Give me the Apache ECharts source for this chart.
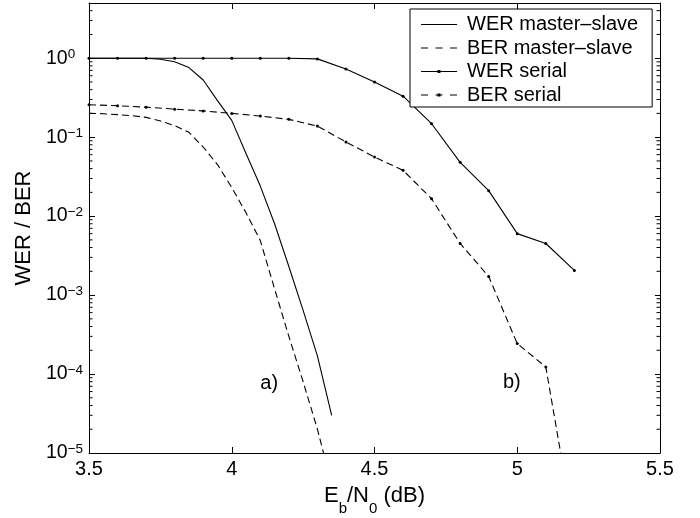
<!DOCTYPE html>
<html><head><meta charset="utf-8">
<script src="https://cdn.jsdelivr.net/npm/echarts@6/dist/echarts.min.js"></script>
<style>html,body{margin:0;padding:0;background:#fff}#c{width:700px;height:518px}</style>
</head><body><div id="c"></div>
<script>
// ---- data ----
const xSerial = [3.5,3.6,3.7,3.8,3.9,4.0,4.1,4.2,4.3,4.4,4.5,4.6,4.7,4.8,4.9,5.0,5.1,5.2];
const werSerial = [1,1,1,1,1,1,1,1,0.98,0.73,0.50,0.33,0.148,0.048,0.021,0.006,0.0045,0.00205];
const berSerialX = [3.5,3.6,3.7,3.8,3.9,4.0,4.1,4.2,4.3,4.4,4.5,4.6,4.7,4.8,4.9,5.0,5.1,5.2];
const berSerial = [0.257,0.25,0.24,0.226,0.215,0.20,0.185,0.168,0.138,0.087,0.056,0.038,0.0166,0.0045,0.00172,0.000243,0.000123,0.000001];
const xMS = [3.5,3.55,3.6,3.65,3.7,3.75,3.8,3.85,3.9,3.95,4.0,4.05,4.1,4.15,4.2,4.25,4.3,4.35];
const werMS = [1,1,1,1,1,0.97,0.9,0.76,0.53,0.29,0.163,0.062,0.024,0.008,0.0023,0.00064,0.00017,0.00003];
const berMS = [0.20,0.198,0.193,0.187,0.178,0.16,0.14,0.115,0.075,0.045,0.023,0.011,0.0049,0.0012,0.0003,0.00008,0.00002,0.000004];
const annotations = [['a)', 4.1, 7.5e-5], ['b)', 4.95, 7.9e-5]];
const xTicks = ['3.5','4','4.5','5','5.5'];
const seriesNames = ['WER master\u2013slave','BER master\u2013slave','WER serial','BER serial'];
const minorTicks = [];
for (let k = -5; k <= 0; k++) for (let m = 2; m <= 9; m++) { const v = m * Math.pow(10, k); if (v < 5) minorTicks.push(v); }

const FONT = 'Liberation Sans, Arial, Helvetica, sans-serif';
const pairs = (xs, ys) => xs.map((x, i) => [x, ys[i]]);

// legend icons (line samples), 36 x 3 box
const ICON_SOLID = 'path://M0,0.9h36v1.2h-36z';
const ICON_DASH = 'path://M0,0.9h7v1.2h-7zM14.5,0.9h7v1.2h-7zM29,0.9h7v1.2h-7z';
const ICON_SOLID_DOT = 'path://M0,0.9h36v1.2h-36zM16.5,0h3v3h-3z';
const ICON_DASH_DOT = 'path://M0,0.9h7v1.2h-7zM14.5,0.9h7v1.2h-7zM29,0.9h7v1.2h-7zM16.5,0h3v3h-3z';
const legendIcons = [ICON_SOLID, ICON_DASH, ICON_SOLID_DOT, ICON_DASH_DOT];

const chart = echarts.init(document.getElementById('c'), null, {renderer: 'canvas'});
const axisCommon = {
  axisLine: {show: true, onZero: false, lineStyle: {color: '#000', width: 1}},
  splitLine: {show: false},
};
const option = {
  animation: false,
  backgroundColor: '#fff',
  grid: {left: 89, right: 40, top: 3, bottom: 65, containLabel: false, outerBoundsMode: 'none'},
  xAxis: [
    Object.assign({type: 'value', min: 3.5, max: 5.5, interval: 0.5, position: 'bottom',
      axisTick: {inside: true, length: 6, lineStyle: {color: '#000'}},
      axisLabel: {fontFamily: FONT, fontSize: 20, color: '#000', margin: 6,
        formatter: v => xTicks[Math.round((v - 3.5) / 0.5)] || ''},
      name: 'E{sub|b}/N{sub|0} (dB)', nameLocation: 'middle', nameGap: 23, nameMoveOverlap: false,
      nameTextStyle: {fontFamily: FONT, fontSize: 22, color: '#000', lineHeight: 40,
        rich: {sub: {fontFamily: FONT, fontSize: 15, lineHeight: 14, verticalAlign: 'bottom', color: '#000'}}}
    }, axisCommon),
    Object.assign({type: 'value', min: 3.5, max: 5.5, interval: 0.5, position: 'top',
      axisTick: {inside: true, length: 6, lineStyle: {color: '#000'}},
      axisLabel: {show: false}}, axisCommon)
  ],
  yAxis: [
    Object.assign({type: 'log', logBase: 10, min: 1e-5, max: 5, position: 'left',
      axisTick: {inside: true, length: 6, lineStyle: {color: '#000'}},
      axisLabel: {align: 'left', margin: 43, color: '#000',
        formatter: v => {
          const e = Math.log10(v); const r = Math.round(e);
          if (Math.abs(e - r) > 1e-6) return '';
          return '{b|10}{s|' + (r < 0 ? '\u2212' + (-r) : String(r)) + '}';
        },
        rich: {
          b: {fontFamily: FONT, fontSize: 19.5, lineHeight: 22, color: '#000'},
          s: {fontFamily: FONT, fontSize: 13.5, lineHeight: 12, verticalAlign: 'top', color: '#000'}
        }},
      name: 'WER / BER', nameLocation: 'middle', nameGap: 54, nameRotate: 90, nameMoveOverlap: false,
      nameTextStyle: {fontFamily: FONT, fontSize: 22, color: '#000'}
    }, axisCommon),
    Object.assign({type: 'log', logBase: 10, min: 1e-5, max: 5, position: 'right',
      axisTick: {inside: true, length: 5, lineStyle: {color: '#000'}},
      axisLabel: {show: false}}, axisCommon)
  ],
  legend: {
    data: seriesNames.map((n, i) => ({name: n, icon: legendIcons[i], itemStyle: {color: '#000', borderWidth: 0}})),
    orient: 'vertical', left: 410, top: 9,
    backgroundColor: '#fff', borderColor: '#000', borderWidth: 1,
    padding: [5.5, 14, 2, 11], itemGap: 3.5, itemWidth: 36, itemHeight: 3,
    textStyle: {fontFamily: FONT, fontSize: 20, color: '#000', lineHeight: 20, padding: [0, 0, 0, 5]},
    inactiveColor: '#000'
  },
  series: [
    {name: seriesNames[0], type: 'line', data: pairs(xMS, werMS), symbol: 'none', clip: true,
      lineStyle: {color: '#000', width: 1.1}, itemStyle: {color: '#000'}},
    {name: seriesNames[1], type: 'line', data: pairs(xMS, berMS), symbol: 'none', clip: true,
      lineStyle: {color: '#000', width: 1.1, type: [7, 4]}, itemStyle: {color: '#000'}},
    {name: seriesNames[2], type: 'line', data: pairs(xSerial, werSerial), symbol: 'circle', symbolSize: 3, clip: true,
      lineStyle: {color: '#000', width: 1.1}, itemStyle: {color: '#000'}},
    {name: seriesNames[3], type: 'line', data: pairs(berSerialX, berSerial), symbol: 'circle', symbolSize: 3, clip: true,
      lineStyle: {color: '#000', width: 1.1, type: [7, 4]}, itemStyle: {color: '#000'}},
    {name: 'annot', type: 'scatter', symbolSize: 0, silent: true,
      itemStyle: {color: '#000', opacity: 1},
      data: annotations.map(a => ({value: [a[1], a[2]], name: a[0]})),
      label: {show: true, position: 'right', distance: 0, formatter: p => p.name,
        fontFamily: FONT, fontSize: 20, color: '#000', opacity: 1}},
    {name: 'minor', type: 'custom', silent: true, clip: false,
      data: minorTicks.map(v => [3.5, v]),
      renderItem: (params, api) => {
        const v = api.value(1);
        const l = api.coord([3.5, v]);
        const r = api.coord([5.5, v]);
        return {type: 'group', children: [
          {type: 'line', shape: {x1: l[0], y1: l[1], x2: l[0] + 3.5, y2: l[1]}, style: {stroke: '#000', lineWidth: 1}},
          {type: 'line', shape: {x1: r[0] - 3.5, y1: r[1], x2: r[0], y2: r[1]}, style: {stroke: '#000', lineWidth: 1}}
        ]};
      }}
  ]
};
chart.setOption(option);
</script></body></html>
